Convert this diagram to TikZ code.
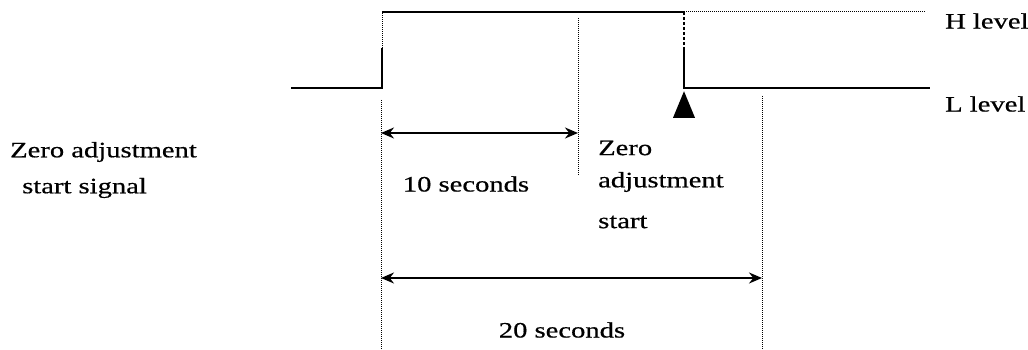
\documentclass[tikz,border=0pt]{standalone}
\usepackage{fontspec}
\setmainfont[FakeStretch=1.3,FakeBold=0.6]{Liberation Serif}
\usetikzlibrary{arrows.meta,shapes.geometric}
\begin{document}
\begin{tikzpicture}[x=1pt,y=-1pt,
  sig/.style={line width=2pt},
  guide/.style={line width=1pt,densely dotted},
  dim/.style={line width=1.8pt,{Stealth[length=13pt,width=11pt]}-{Stealth[length=13pt,width=11pt]}},
  lbl/.style={inner sep=0pt,font=\fontsize{22}{26}\selectfont}]
\useasboundingbox (0,0) rectangle (1028,350);
% signal coordinates
\coordinate (l0) at (291,88);
\coordinate (r0) at (382,88);
\coordinate (r1) at (382,48);
\coordinate (t0) at (382,12);
\coordinate (t1) at (684,12);
\coordinate (f1) at (684,50);
\coordinate (f0) at (684,88);
\coordinate (le) at (930,88);
\coordinate (he) at (925,12);
% waveform
\draw[sig] (l0) -- (r0) -- (r1);
\draw[guide] (r1) -- (t0);
\draw[sig] (t0) -- (t1);
\draw[sig,densely dashed] (t1) -- (f1);
\draw[sig] (f1) -- (f0) -- (le);
\draw[guide] (t1) -- (he);
% marker triangle
\node[fill=black,isosceles triangle,shape border rotate=90,minimum width=22pt,minimum height=19pt,inner sep=0pt,anchor=south] (mk) at (684,118) {};
% guide lines
\coordinate (g10a) at (578,18);
\coordinate (g10b) at (578,175);
\coordinate (g0a) at (381,100);
\coordinate (g0b) at (381,350);
\coordinate (g20a) at (762,96);
\coordinate (g20b) at (762,350);
\draw[guide] (g10a) -- (g10b);
\draw[guide] (g0a) -- (g0b);
\draw[guide] (g20a) -- (g20b);
% dimension arrows
\coordinate (a10l) at (381,133);
\coordinate (a10r) at (578,133);
\coordinate (a20l) at (381,278);
\coordinate (a20r) at (762,278);
\draw[dim] (a10l) -- (a10r);
\draw[dim] (a20l) -- (a20r);
% labels
\node[lbl] (s10) at (466,184) {10 seconds};
\node[lbl] (s20) at (562,330) {20 seconds};
\node[lbl,anchor=west] (zs1) at (598,148) {Zero};
\node[lbl,anchor=west] (zs2) at (598,182) {adjustment};
\node[lbl,anchor=west] (zs3) at (598,222) {start};
\node[lbl,anchor=west] (sg1) at (10,152) {Zero adjustment};
\node[lbl,anchor=west] (sg2) at (22,188) {start signal};
\node[lbl,anchor=west] (hl) at (945,21) {H level};
\node[lbl,anchor=west] (ll) at (945,104) {L level};
\end{tikzpicture}
\end{document}
